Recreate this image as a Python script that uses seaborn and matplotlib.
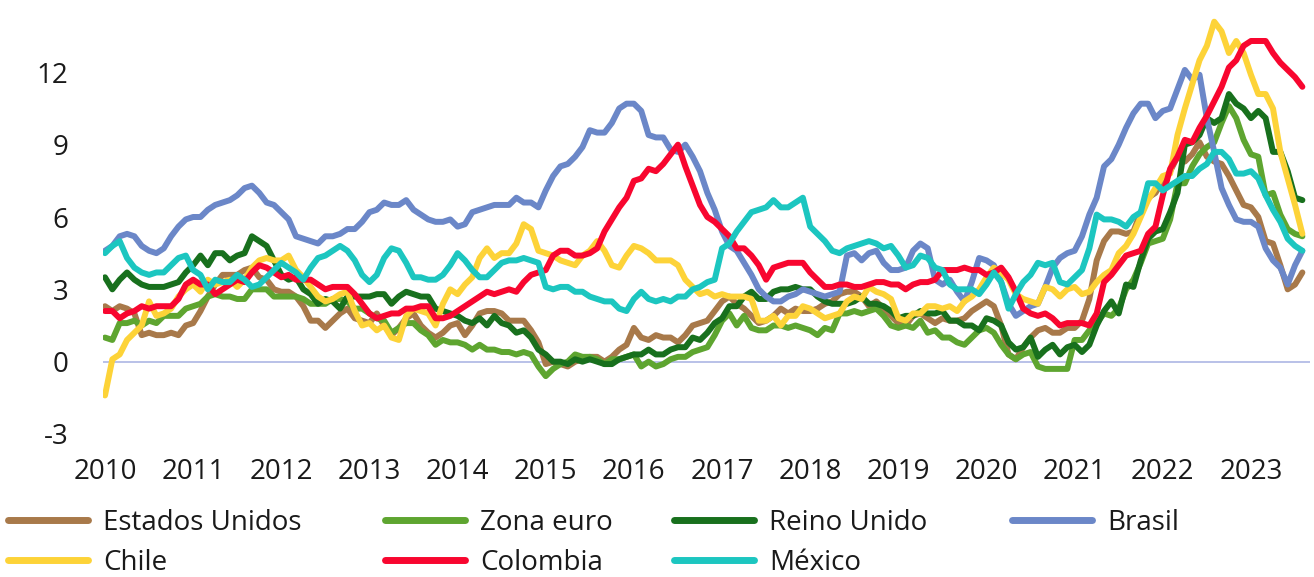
import numpy as np
import pandas as pd
import matplotlib
matplotlib.use("Agg")
import matplotlib.pyplot as plt
import seaborn as sns
from matplotlib.lines import Line2D

# ---------------- data (monthly, Jan 2010 - Aug 2023, % a/a) ----------------
start_year = 2010
tick_years = list(range(2010, 2024))
y_ticks = [-3, 0, 3, 6, 9, 12]

estados_unidos = [
    2.3, 2.1, 2.3, 2.2, 2.0, 1.1, 1.2, 1.1, 1.1, 1.2, 1.1, 1.5,
    1.6, 2.1, 2.7, 3.2, 3.6, 3.6, 3.6, 3.8, 3.9, 3.5, 3.4, 3.0,
    2.9, 2.9, 2.7, 2.3, 1.7, 1.7, 1.4, 1.7, 2.0, 2.2, 1.8, 1.7,
    1.6, 2.0, 1.5, 1.1, 1.4, 1.8, 2.0, 1.5, 1.2, 1.0, 1.2, 1.5,
    1.6, 1.1, 1.5, 2.0, 2.1, 2.1, 2.0, 1.7, 1.7, 1.7, 1.3, 0.8,
    -0.1, 0.0, -0.1, -0.2, 0.0, 0.1, 0.2, 0.2, 0.0, 0.2, 0.5, 0.7,
    1.4, 1.0, 0.9, 1.1, 1.0, 1.0, 0.8, 1.1, 1.5, 1.6, 1.7, 2.1,
    2.5, 2.7, 2.4, 2.2, 1.9, 1.6, 1.7, 1.9, 2.2, 2.0, 2.2, 2.1,
    2.1, 2.2, 2.4, 2.5, 2.8, 2.9, 2.9, 2.7, 2.3, 2.5, 2.2, 1.9,
    1.6, 1.5, 1.9, 2.0, 1.8, 1.6, 1.8, 1.7, 1.7, 1.8, 2.1, 2.3,
    2.5, 2.3, 1.5, 0.3, 0.1, 0.6, 1.0, 1.3, 1.4, 1.2, 1.2, 1.4,
    1.4, 1.7, 2.6, 4.2, 5.0, 5.4, 5.4, 5.3, 5.4, 6.2, 6.8, 7.0,
    7.5, 7.9, 8.5, 8.3, 8.6, 9.1, 8.5, 8.3, 8.2, 7.7, 7.1, 6.5,
    6.4, 6.0, 5.0, 4.9, 4.0, 3.0, 3.2, 3.7,
]

zona_euro = [
    1.0, 0.9, 1.6, 1.6, 1.7, 1.5, 1.7, 1.6, 1.9, 1.9, 1.9, 2.2,
    2.3, 2.4, 2.7, 2.8, 2.7, 2.7, 2.6, 2.6, 3.0, 3.0, 3.0, 2.7,
    2.7, 2.7, 2.7, 2.6, 2.4, 2.4, 2.4, 2.6, 2.6, 2.5, 2.2, 2.2,
    2.0, 1.8, 1.7, 1.2, 1.4, 1.6, 1.6, 1.3, 1.1, 0.7, 0.9, 0.8,
    0.8, 0.7, 0.5, 0.7, 0.5, 0.5, 0.4, 0.4, 0.3, 0.4, 0.3, -0.2,
    -0.6, -0.3, -0.1, 0.0, 0.3, 0.2, 0.2, 0.1, -0.1, 0.1, 0.1, 0.2,
    0.3, -0.2, 0.0, -0.2, -0.1, 0.1, 0.2, 0.2, 0.4, 0.5, 0.6, 1.1,
    1.7, 2.0, 1.5, 1.9, 1.4, 1.3, 1.3, 1.5, 1.5, 1.4, 1.5, 1.4,
    1.3, 1.1, 1.4, 1.3, 2.0, 2.0, 2.1, 2.0, 2.1, 2.2, 1.9, 1.5,
    1.4, 1.5, 1.4, 1.7, 1.2, 1.3, 1.0, 1.0, 0.8, 0.7, 1.0, 1.3,
    1.4, 1.2, 0.7, 0.3, 0.1, 0.3, 0.4, -0.2, -0.3, -0.3, -0.3, -0.3,
    0.9, 0.9, 1.3, 1.6, 2.0, 1.9, 2.2, 3.0, 3.4, 4.1, 4.9, 5.0,
    5.1, 5.9, 7.4, 7.4, 8.1, 8.6, 8.9, 9.1, 9.9, 10.6, 10.1, 9.2,
    8.6, 8.5, 6.9, 7.0, 6.1, 5.5, 5.3, 5.2,
]

reino_unido = [
    3.5, 3.0, 3.4, 3.7, 3.4, 3.2, 3.1, 3.1, 3.1, 3.2, 3.3, 3.7,
    4.0, 4.4, 4.0, 4.5, 4.5, 4.2, 4.4, 4.5, 5.2, 5.0, 4.8, 4.2,
    3.6, 3.4, 3.5, 3.0, 2.8, 2.4, 2.6, 2.5, 2.2, 2.7, 2.7, 2.7,
    2.7, 2.8, 2.8, 2.4, 2.7, 2.9, 2.8, 2.7, 2.7, 2.2, 2.1, 2.0,
    1.9, 1.7, 1.6, 1.8, 1.5, 1.9, 1.6, 1.5, 1.2, 1.3, 1.0, 0.5,
    0.3, 0.0, 0.0, -0.1, 0.1, 0.0, 0.1, 0.0, -0.1, -0.1, 0.1, 0.2,
    0.3, 0.3, 0.5, 0.3, 0.3, 0.5, 0.6, 0.6, 1.0, 0.9, 1.2, 1.6,
    1.8, 2.3, 2.3, 2.7, 2.9, 2.6, 2.6, 2.9, 3.0, 3.0, 3.1, 3.0,
    3.0, 2.7, 2.5, 2.4, 2.4, 2.4, 2.5, 2.7, 2.4, 2.4, 2.3, 2.1,
    1.8, 1.9, 1.9, 2.1, 2.0, 2.0, 2.1, 1.7, 1.7, 1.5, 1.5, 1.3,
    1.8, 1.7, 1.5, 0.8, 0.5, 0.6, 1.0, 0.2, 0.5, 0.7, 0.3, 0.6,
    0.7, 0.4, 0.7, 1.5, 2.1, 2.5, 2.0, 3.2, 3.1, 4.2, 5.1, 5.4,
    5.5, 6.2, 7.0, 9.0, 9.1, 9.4, 10.1, 9.9, 10.1, 11.1, 10.7, 10.5,
    10.1, 10.4, 10.1, 8.7, 8.7, 7.9, 6.8, 6.7,
]

brasil = [
    4.6, 4.8, 5.2, 5.3, 5.2, 4.8, 4.6, 4.5, 4.7, 5.2, 5.6, 5.9,
    6.0, 6.0, 6.3, 6.5, 6.6, 6.7, 6.9, 7.2, 7.3, 7.0, 6.6, 6.5,
    6.2, 5.9, 5.2, 5.1, 5.0, 4.9, 5.2, 5.2, 5.3, 5.5, 5.5, 5.8,
    6.2, 6.3, 6.6, 6.5, 6.5, 6.7, 6.3, 6.1, 5.9, 5.8, 5.8, 5.9,
    5.6, 5.7, 6.2, 6.3, 6.4, 6.5, 6.5, 6.5, 6.8, 6.6, 6.6, 6.4,
    7.1, 7.7, 8.1, 8.2, 8.5, 8.9, 9.6, 9.5, 9.5, 9.9, 10.5, 10.7,
    10.7, 10.4, 9.4, 9.3, 9.3, 8.8, 8.7, 9.0, 8.5, 7.9, 7.0, 6.3,
    5.4, 4.8, 4.6, 4.1, 3.6, 3.0, 2.7, 2.5, 2.5, 2.7, 2.8, 3.0,
    2.9, 2.8, 2.7, 2.8, 2.9, 4.4, 4.5, 4.2, 4.5, 4.6, 4.1, 3.8,
    3.8, 3.9, 4.6, 4.9, 4.7, 3.4, 3.2, 3.4, 2.9, 2.5, 3.3, 4.3,
    4.2, 4.0, 3.3, 2.4, 1.9, 2.1, 2.3, 2.4, 3.1, 3.9, 4.3, 4.5,
    4.6, 5.2, 6.1, 6.8, 8.1, 8.4, 9.0, 9.7, 10.3, 10.7, 10.7, 10.1,
    10.4, 10.5, 11.3, 12.1, 11.7, 11.9, 10.1, 8.7, 7.2, 6.5, 5.9, 5.8,
    5.8, 5.6, 4.7, 4.2, 3.9, 3.2, 4.0, 4.6,
]

chile = [
    -1.4, 0.1, 0.3, 0.9, 1.2, 1.5, 2.5, 1.9, 2.0, 2.2, 2.7, 3.0,
    3.2, 2.9, 3.4, 3.2, 3.3, 3.4, 3.1, 3.4, 3.9, 4.2, 4.3, 4.2,
    4.2, 4.4, 3.8, 3.5, 3.1, 2.7, 2.5, 2.6, 2.8, 2.9, 2.1, 1.5,
    1.6, 1.3, 1.5, 1.0, 0.9, 1.9, 2.2, 2.1, 2.0, 1.5, 2.4, 3.0,
    2.8, 3.2, 3.5, 4.3, 4.7, 4.3, 4.5, 4.5, 4.9, 5.7, 5.5, 4.6,
    4.5, 4.4, 4.2, 4.1, 4.0, 4.4, 4.6, 5.0, 4.6, 4.0, 3.9, 4.4,
    4.8, 4.7, 4.5, 4.2, 4.2, 4.2, 4.0, 3.4, 3.1, 2.8, 2.9, 2.7,
    2.8, 2.7, 2.7, 2.7, 2.6, 1.7, 1.7, 1.9, 1.5, 1.9, 1.9, 2.3,
    2.2, 2.0, 1.8, 1.9, 2.0, 2.5, 2.7, 2.6, 3.1, 2.9, 2.8, 2.6,
    1.8, 1.7, 2.0, 2.0, 2.3, 2.3, 2.2, 2.3, 2.1, 2.5, 2.7, 3.0,
    3.5, 3.9, 3.7, 3.4, 2.8, 2.6, 2.5, 2.4, 3.1, 3.0, 2.7, 3.0,
    3.1, 2.8, 2.9, 3.3, 3.6, 3.8, 4.5, 4.8, 5.3, 6.0, 6.7, 7.2,
    7.7, 7.8, 9.4, 10.5, 11.5, 12.5, 13.1, 14.1, 13.7, 12.8, 13.3, 12.8,
    11.9, 11.1, 11.1, 10.5, 8.7, 7.6, 6.5, 5.3,
]

colombia = [
    2.1, 2.1, 1.8, 2.0, 2.1, 2.3, 2.2, 2.3, 2.3, 2.3, 2.6, 3.2,
    3.4, 3.2, 3.2, 2.8, 3.0, 3.2, 3.4, 3.3, 3.7, 4.0, 3.9, 3.7,
    3.5, 3.6, 3.4, 3.4, 3.4, 3.2, 3.0, 3.1, 3.1, 3.1, 2.8, 2.4,
    2.0, 1.8, 1.9, 2.0, 2.0, 2.2, 2.2, 2.3, 2.3, 1.8, 1.8, 1.9,
    2.1, 2.3, 2.5, 2.7, 2.9, 2.8, 2.9, 3.0, 2.9, 3.3, 3.6, 3.7,
    3.8, 4.4, 4.6, 4.6, 4.4, 4.4, 4.5, 4.7, 5.4, 5.9, 6.4, 6.8,
    7.5, 7.6, 8.0, 7.9, 8.2, 8.6, 9.0, 8.1, 7.3, 6.5, 6.0, 5.8,
    5.5, 5.2, 4.7, 4.7, 4.4, 4.0, 3.4, 3.9, 4.0, 4.1, 4.1, 4.1,
    3.7, 3.4, 3.1, 3.1, 3.2, 3.2, 3.1, 3.1, 3.2, 3.3, 3.3, 3.2,
    3.2, 3.0, 3.2, 3.3, 3.3, 3.4, 3.8, 3.8, 3.8, 3.9, 3.8, 3.8,
    3.6, 3.7, 3.9, 3.5, 2.9, 2.2, 2.0, 1.9, 2.0, 1.8, 1.5, 1.6,
    1.6, 1.6, 1.5, 2.0, 3.3, 3.6, 4.0, 4.4, 4.5, 4.6, 5.3, 5.6,
    6.9, 8.0, 8.5, 9.2, 9.1, 9.7, 10.2, 10.8, 11.4, 12.2, 12.5, 13.1,
    13.3, 13.3, 13.3, 12.8, 12.4, 12.1, 11.8, 11.4,
]

mexico = [
    4.5, 4.8, 5.0, 4.3, 3.9, 3.7, 3.6, 3.7, 3.7, 4.0, 4.3, 4.4,
    3.8, 3.6, 3.0, 3.4, 3.3, 3.3, 3.6, 3.4, 3.1, 3.2, 3.5, 3.8,
    4.1, 3.9, 3.7, 3.4, 3.9, 4.3, 4.4, 4.6, 4.8, 4.6, 4.2, 3.6,
    3.3, 3.6, 4.3, 4.7, 4.6, 4.1, 3.5, 3.5, 3.4, 3.4, 3.6, 4.0,
    4.5, 4.2, 3.8, 3.5, 3.5, 3.8, 4.1, 4.2, 4.2, 4.3, 4.2, 4.1,
    3.1, 3.0, 3.1, 3.1, 2.9, 2.9, 2.7, 2.6, 2.5, 2.5, 2.2, 2.1,
    2.6, 2.9, 2.6, 2.5, 2.6, 2.5, 2.7, 2.7, 3.0, 3.1, 3.3, 3.4,
    4.7, 4.9, 5.4, 5.8, 6.2, 6.3, 6.4, 6.7, 6.4, 6.4, 6.6, 6.8,
    5.6, 5.3, 5.0, 4.6, 4.5, 4.7, 4.8, 4.9, 5.0, 4.9, 4.7, 4.8,
    4.4, 3.9, 4.0, 4.4, 4.3, 3.9, 3.8, 3.2, 3.0, 3.0, 3.0, 2.8,
    3.2, 3.7, 3.3, 2.2, 2.8, 3.3, 3.6, 4.1, 4.0, 4.1, 3.3, 3.2,
    3.5, 3.8, 4.7, 6.1, 5.9, 5.9, 5.8, 5.6, 6.0, 6.2, 7.4, 7.4,
    7.1, 7.3, 7.5, 7.7, 7.7, 8.0, 8.2, 8.7, 8.7, 8.4, 7.8, 7.8,
    7.9, 7.6, 6.9, 6.3, 5.8, 5.1, 4.8, 4.6,
]

series_names = ["Estados Unidos", "Zona euro", "Reino Unido", "Brasil",
                "Chile", "Colombia", "México"]
series_values = [estados_unidos, zona_euro, reino_unido, brasil,
                 chile, colombia, mexico]
colors = ["#A8794A", "#5EA530", "#18701D", "#6B87C8",
          "#FDD338", "#F8062F", "#1CC6C0"]

# ---------------- long-form table ----------------
frames = []
for name, vals in zip(series_names, series_values):
    t = start_year + np.arange(len(vals)) / 12.0
    frames.append(pd.DataFrame({"fecha": t, "valor": vals, "serie": name}))
df = pd.concat(frames, ignore_index=True)

# ---------------- figure ----------------
sns.set_theme(style="white")
plt.rcParams["font.family"] = ["Open Sans", "DejaVu Sans"]

W, H = 1314, 577
fig = plt.figure(figsize=(W / 100, H / 100), dpi=100)
ax_left, ax_right, ax_top, ax_bottom = 103, 1310, 0, 434
ax = fig.add_axes([ax_left / W, 1 - ax_bottom / H,
                   (ax_right - ax_left) / W, (ax_bottom - ax_top) / H])

ax.axhline(0, color="#B3BCE6", lw=1.3, zorder=1)

palette = dict(zip(series_names, colors))
sns.lineplot(data=df, x="fecha", y="valor", hue="serie",
             hue_order=series_names, palette=palette, linewidth=4.3,
             legend=False, ax=ax, zorder=3)
for ln in ax.lines:
    ln.set_solid_capstyle("round")
    ln.set_solid_joinstyle("round")

px_per_year = 88.15
ax.set_xlim(2010 - 2 / px_per_year, 2010 + (ax_right - 105) / px_per_year)
ax.set_ylim(-3, 15)
ax.set_xticks(tick_years)
ax.set_xticklabels([str(y) for y in tick_years])
ax.set_yticks(y_ticks)
ax.set_yticklabels([str(v) for v in y_ticks])
ax.tick_params(axis="both", length=0, labelsize=20, colors="#1a1a1a")
ax.tick_params(axis="y", pad=25)
ax.tick_params(axis="x", pad=17.5)
ax.set_xlabel("")
ax.set_ylabel("")
for s in ax.spines.values():
    s.set_visible(False)
ax.grid(False)

# legend: 4 columns placed individually
legend_columns = [[0, 4], [1, 5], [2, 6], [3]]
col_x = [8, 385, 674, 1012]
for idxs, x0 in zip(legend_columns, col_x):
    hs = [Line2D([0], [0], color=colors[i], lw=5.0, solid_capstyle="round")
          for i in idxs]
    ls = [series_names[i] for i in idxs]
    fig.legend(hs, ls, ncol=1, loc="upper left",
               bbox_to_anchor=(x0 / W, 1 - 509 / H), frameon=False,
               fontsize=20, handlelength=2.88, handletextpad=0.55,
               labelspacing=0.42, borderpad=0, borderaxespad=0,
               labelcolor="#1a1a1a")

fig.savefig("out.png", dpi=100)
